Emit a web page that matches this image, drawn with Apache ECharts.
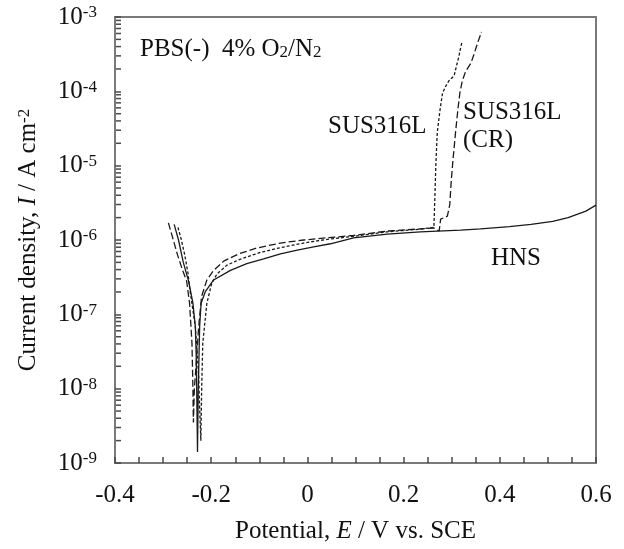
<!DOCTYPE html>
<html><head><meta charset="utf-8">
<script src="https://cdn.jsdelivr.net/npm/echarts@6/dist/echarts.min.js"></script>
<style>html,body{margin:0;padding:0;background:#fff}#c{width:624px;height:549px}</style>
</head><body><div id="c"></div>
<script>
// ---- data (potential in V vs. SCE, current density in A cm^-2) ----
const potentialHNS = [-0.277,-0.268,-0.258,-0.247,-0.238,-0.233,-0.231,-0.230,-0.2285,-0.227,-0.2255,-0.224,-0.221,-0.2125,-0.195,-0.16,-0.126,-0.091,-0.056,-0.021,0.013,0.048,0.096,0.166,0.235,0.27,0.319,0.36,0.42,0.465,0.51,0.542,0.579,0.6];
const currentHNS   = [1.62e-6,1.0e-6,5.0e-7,2.8e-7,1.41e-7,6.9e-8,2.5e-8,8.9e-9,1.41e-9,8.9e-9,2.5e-8,6.9e-8,1.41e-7,2.0e-7,2.9e-7,3.9e-7,4.8e-7,5.56e-7,6.5e-7,7.3e-7,8.1e-7,8.9e-7,1.07e-6,1.20e-6,1.29e-6,1.32e-6,1.36e-6,1.41e-6,1.51e-6,1.62e-6,1.78e-6,2.0e-6,2.45e-6,2.95e-6];

const potentialSUS = [-0.269,-0.262,-0.255,-0.248,-0.245,-0.239,-0.233,-0.226,-0.224,-0.2215,-0.22,-0.2175,-0.209,-0.199,-0.188,-0.167,-0.14,-0.098,-0.056,0.0,0.041,0.096,0.166,0.235,0.263,0.265,0.267,0.270,0.276,0.281,0.2875,0.294,0.305,0.31,0.315,0.319,0.322];
const currentSUS   = [1.48e-6,1.0e-6,6.3e-7,3.5e-7,2.3e-7,1.26e-7,6.9e-8,1.48e-8,5.4e-9,2.0e-9,8.9e-9,4.1e-8,1.41e-7,2.6e-7,3.5e-7,4.6e-7,5.5e-7,6.8e-7,7.9e-7,9.3e-7,1.02e-6,1.12e-6,1.29e-6,1.40e-6,1.48e-6,3.7e-6,1.02e-5,2.8e-5,5.8e-5,9.5e-5,1.17e-4,1.38e-4,1.62e-4,2.2e-4,2.95e-4,4.0e-4,4.7e-4];

const potentialSUSCR = [-0.289,-0.28,-0.27,-0.26,-0.251,-0.245,-0.24,-0.238,-0.237,-0.235,-0.233,-0.226,-0.22,-0.209,-0.195,-0.174,-0.143,-0.105,-0.056,-0.008,0.041,0.096,0.166,0.235,0.263,0.274,0.277,0.291,0.296,0.299,0.303,0.308,0.313,0.317,0.322,0.329,0.34,0.346,0.354,0.362];
const currentSUSCR   = [1.70e-6,1.07e-6,6.3e-7,4.0e-7,2.8e-7,1.41e-7,4.1e-8,1.0e-8,3.5e-9,1.0e-8,1.48e-8,6.9e-8,1.74e-7,2.9e-7,3.9e-7,5.2e-7,6.5e-7,7.8e-7,9.1e-7,1.0e-6,1.07e-6,1.15e-6,1.32e-6,1.41e-6,1.45e-6,1.32e-6,1.91e-6,2.09e-6,3.0e-6,6.2e-6,1.26e-5,2.8e-5,5.8e-5,9.5e-5,1.38e-4,1.86e-4,2.4e-4,3.1e-4,4.5e-4,6.3e-4];

const xMin = -0.4, xMax = 0.6, xStep = 0.2;
const yMin = 1e-9, yMax = 1e-3;
const yDecades = [-9,-8,-7,-6,-5,-4];
const yMinorMantissas = [2,3,4,5,6,7,8,9];

const FONT = '"Liberation Serif","Times New Roman",serif';
const FS = 25, FS_SMALL = 17;
const TXT = '#111';
const AX = '#7a7a7a';
const TICK = '#4a4a4a';

function pairs(xs, ys){ return xs.map((x,i)=>[x, ys[i]]); }
const minorTicks = [];
yDecades.forEach(e => yMinorMantissas.forEach(m => minorTicks.push([xMin, m * Math.pow(10, e)])));

const baseRich = {
  i: {fontFamily: FONT, fontSize: FS, fontStyle: 'italic', color: TXT, lineHeight: FS},
  sup: {fontFamily: FONT, fontSize: FS_SMALL, color: TXT, lineHeight: 16, verticalAlign: 'top'},
  sub: {fontFamily: FONT, fontSize: FS_SMALL, color: TXT, lineHeight: 13, verticalAlign: 'bottom'},
  b: {fontFamily: FONT, fontSize: FS, color: TXT, lineHeight: FS}
};

const chart = echarts.init(document.getElementById('c'), null, {renderer: 'canvas'});
chart.setOption({
  animation: false,
  backgroundColor: '#fff',
  grid: {left: 115, top: 17, right: 28, bottom: 81, show: true, borderColor: AX, borderWidth: 2, containLabel: false, z: 0},
  xAxis: {
    type: 'value', min: xMin, max: xMax, interval: xStep, z: 10,
    splitLine: {show: false},
    axisLine: {onZero: false, lineStyle: {color: AX, width: 2}},
    axisTick: {show: true, inside: true, length: 6, lineStyle: {color: TICK, width: 1.5}},
    minorTick: {show: true, splitNumber: 4, length: 6, lineStyle: {color: TICK, width: 1.5}},
    minorSplitLine: {show: false},
    axisLabel: {margin: 20, fontFamily: FONT, fontSize: FS, color: TXT},
    name: 'Potential, {i|E} / V vs. SCE',
    nameLocation: 'middle', nameGap: 56,
    nameTextStyle: {fontFamily: FONT, fontSize: FS, color: TXT, rich: baseRich}
  },
  yAxis: {
    type: 'log', logBase: 10, min: yMin, max: yMax, splitNumber: 6, z: 10,
    splitLine: {show: false},
    axisLine: {onZero: false, lineStyle: {color: AX, width: 2}},
    axisTick: {show: true, inside: true, length: 6, lineStyle: {color: TICK, width: 1.5}},
    axisLabel: {
      margin: 18,
      formatter: v => '{b|10}{sup|' + Math.round(Math.log10(v)) + '}',
      rich: baseRich
    },
    name: 'Current density, {i|I} / A cm{sup|-2}',
    nameLocation: 'middle', nameGap: 74, nameRotate: 90,
    nameTextStyle: {fontFamily: FONT, fontSize: FS, color: TXT, rich: baseRich}
  },
  graphic: [
    {type: 'text', x: 140, y: 49, style: {text: 'PBS(-)  4% O{sub|2}/N{sub|2}', fontFamily: FONT, fontSize: FS, fill: TXT, align: 'left', verticalAlign: 'middle', rich: baseRich}},
    {type: 'text', x: 328, y: 126, style: {text: 'SUS316L', fontFamily: FONT, fontSize: FS, fill: TXT, align: 'left', verticalAlign: 'middle'}},
    {type: 'text', x: 463, y: 112, style: {text: 'SUS316L', fontFamily: FONT, fontSize: FS, fill: TXT, align: 'left', verticalAlign: 'middle'}},
    {type: 'text', x: 463, y: 140, style: {text: '(CR)', fontFamily: FONT, fontSize: FS, fill: TXT, align: 'left', verticalAlign: 'middle'}},
    {type: 'text', x: 491, y: 258, style: {text: 'HNS', fontFamily: FONT, fontSize: FS, fill: TXT, align: 'left', verticalAlign: 'middle'}}
  ],
  series: [
    {type: 'line', name: 'SUS316L (CR)', data: pairs(potentialSUSCR, currentSUSCR), showSymbol: false, symbol: 'none',
     lineStyle: {color: '#1a1a1a', width: 1.3, type: [7, 3]}, z: 2},
    {type: 'line', name: 'SUS316L', data: pairs(potentialSUS, currentSUS), showSymbol: false, symbol: 'none',
     lineStyle: {color: '#1a1a1a', width: 1.3, type: [3, 2]}, z: 2},
    {type: 'line', name: 'HNS', data: pairs(potentialHNS, currentHNS), showSymbol: false, symbol: 'none',
     lineStyle: {color: '#1a1a1a', width: 1.3, type: 'solid'}, z: 3},
    {type: 'custom', name: 'minorTicks', coordinateSystem: 'cartesian2d', silent: true, clip: false, z: 5,
     encode: {x: 0, y: 1},
     data: minorTicks,
     renderItem: (params, api) => {
       const p = api.coord([xMin, api.value(1)]);
       return {type: 'line', shape: {x1: p[0], y1: p[1], x2: p[0] + 6, y2: p[1]}, style: {stroke: TICK, lineWidth: 1.5, fill: null}};
     }}
  ]
});
</script>
</body></html>
